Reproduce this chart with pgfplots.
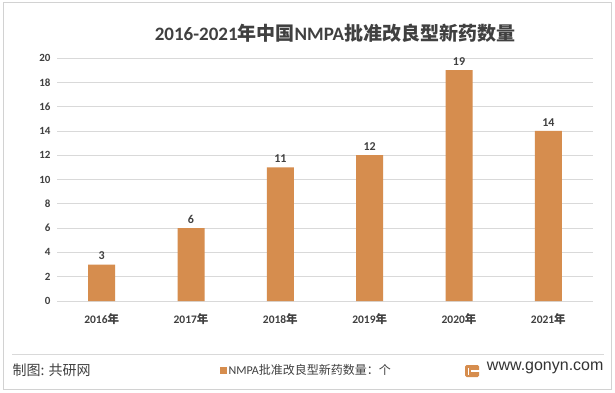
\documentclass[border=0pt]{standalone}
\usepackage{pgfplots}
\pgfplotsset{compat=1.18}
\usepackage{fontspec}
\setmainfont{Carlito}
\newfontfamily\cjk{Noto Sans CJK SC}
\newfontfamily\arial{Liberation Sans}
\definecolor{barc}{RGB}{214,141,78}
\definecolor{txt}{RGB}{64,64,64}
\definecolor{gridc}{RGB}{217,217,217}
\begin{document}
\begin{tikzpicture}[x=1pt,y=1pt]
\fill[white] (0,0) rectangle (615,392);
\draw[gray!35, line width=1pt] (3,3) rectangle (611,389);
\node[font=\bfseries\fontsize{19}{22}\selectfont, text=txt] at (335,359) {2016-2021{\cjk\bfseries 年中国}NMPA{\cjk\bfseries 批准改良型新药数量}};
\begin{axis}[
  at={(57pt,91pt)}, anchor=south west,
  scale only axis, width=536pt, height=243pt,
  ymin=0, ymax=20, ytick={0,2,...,20},
  xmin=-0.5, xmax=5.5, xtick={0,...,5},
  xticklabels={2016{\cjk\bfseries 年},2017{\cjk\bfseries 年},2018{\cjk\bfseries 年},2019{\cjk\bfseries 年},2020{\cjk\bfseries 年},2021{\cjk\bfseries 年}},
  axis x line*=bottom, axis y line*=left,
  y axis line style={draw=none},
  x axis line style={draw=gridc, line width=0.8pt},
  tick style={draw=none},
  ymajorgrids, grid style={gridc, line width=0.8pt},
  /pgf/number format/assume math mode=true,
  yticklabel style={font=\bfseries\fontsize{11}{12}\selectfont, text=txt, xshift=-3pt},
  xticklabel style={font=\bfseries\fontsize{11.5}{12}\selectfont, text=txt, yshift=-5pt},
  ybar, bar width=27pt,
  legend style={at={(axis description cs:0.465,-0.284)}, anchor=center, draw=none, fill=none,
     font=\fontsize{12}{14}\selectfont, text=txt},
  legend image code/.code={\fill[barc] (0pt,-3.5pt) rectangle (7pt,3.5pt);},
]
\addplot[fill=barc, draw=none, nodes near coords,
  nodes near coords style={font=\bfseries\fontsize{12}{13}\selectfont, text=txt, yshift=1pt}]
  coordinates {(0,3) (1,6) (2,11) (3,12) (4,19) (5,14)};
\addlegendentry{NMPA{\cjk 批准改良型新药数量：个}}
\end{axis}
\draw[gridc, line width=0.8pt] (12,38) -- (604,38);
\node[anchor=west, font=\cjk\fontsize{14}{16}\selectfont, text=txt] at (9,22) {制图: 共研网};
\node[anchor=east, font=\arial\fontsize{16}{18}\selectfont, text=black!80] at (607,24) {www.gonyn.com};
\fill[barc, rounded corners=1.5pt] (465,15) rectangle (479,27);
\fill[white] (471,20.3) rectangle (479.5,21.7);
\fill[white] (468,17.5) rectangle (469.2,24.5);
\end{tikzpicture}
\end{document}
